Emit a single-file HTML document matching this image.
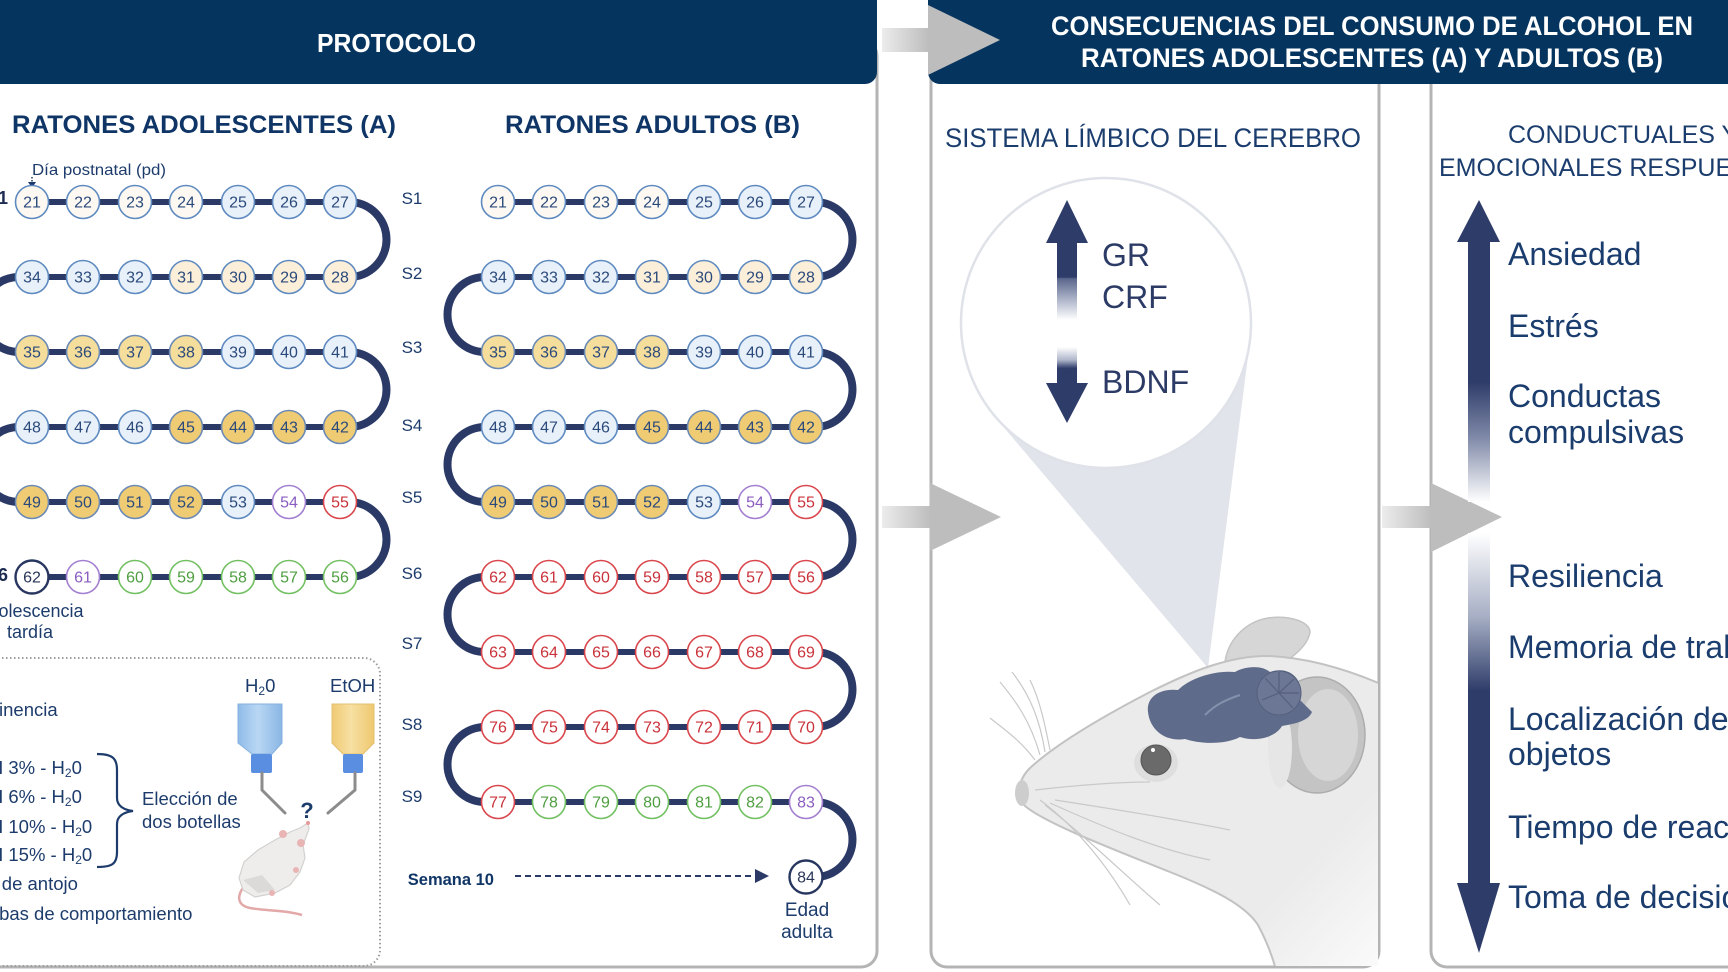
<!DOCTYPE html>
<html>
<head>
<meta charset="utf-8">
<style>
html,body{margin:0;padding:0;background:#fff;}
body{width:1728px;height:972px;overflow:hidden;}
svg{display:block;}
svg text{font-family:"Liberation Sans",sans-serif;}
.nm circle{stroke-width:1.6;}
.nm text{font-size:16px;text-anchor:middle;fill:#2b4a7c;}
g.w circle{fill:#fdf9f2;stroke:#5e8ac0;}
g.b circle{fill:#e8f0f9;stroke:#5e8ac0;}
g.c circle{fill:#fcefd9;stroke:#5e8ac0;}
g.y circle{fill:#f5dd9b;stroke:#6a8ab5;}
g.o circle{fill:#efcb74;stroke:#6a8ab5;}
g.p circle{fill:#fff;stroke:#a27fd0;} g.p text{fill:#8a5cc0;}
g.r circle{fill:#fff;stroke:#d9464c;} g.r text{fill:#c9323a;}
g.g circle{fill:#fff;stroke:#72c062;} g.g text{fill:#4e9e40;}
g.n circle{fill:#fff;stroke:#27365f;stroke-width:2.4;} g.n text{fill:#2a3558;}
.lbl{font-size:17px;fill:#1d3c6c;text-anchor:middle;}
.bx{font-size:18.5px;fill:#1d3c6c;}
.rt{font-size:32px;fill:#1b3d6e;}
</style>
</head>
<body>
<svg width="1728" height="972" viewBox="0 0 1728 972" xmlns="http://www.w3.org/2000/svg">
<defs>
  <linearGradient id="barg" x1="0" y1="0" x2="1" y2="0">
    <stop offset="0" stop-color="#ececec"/>
    <stop offset="1" stop-color="#bdbdbd"/>
  </linearGradient>
  <linearGradient id="mu" gradientUnits="userSpaceOnUse" x1="0" y1="242" x2="0" y2="320">
    <stop offset="0" stop-color="#2e3c69"/>
    <stop offset="0.45" stop-color="#2e3c69"/>
    <stop offset="0.47" stop-color="#5a668c"/>
    <stop offset="0.72" stop-color="#a8b0c6"/>
    <stop offset="1" stop-color="#ffffff"/>
  </linearGradient>
  <linearGradient id="md" gradientUnits="userSpaceOnUse" x1="0" y1="347" x2="0" y2="384">
    <stop offset="0" stop-color="#ffffff"/>
    <stop offset="0.35" stop-color="#b0b7cb"/>
    <stop offset="0.5" stop-color="#58648a"/>
    <stop offset="0.58" stop-color="#2e3c69"/>
    <stop offset="1" stop-color="#2e3c69"/>
  </linearGradient>
  <linearGradient id="ru" gradientUnits="userSpaceOnUse" x1="0" y1="241" x2="0" y2="502">
    <stop offset="0" stop-color="#2e3c69"/>
    <stop offset="0.54" stop-color="#2e3c69"/>
    <stop offset="0.75" stop-color="#7e88a7"/>
    <stop offset="1" stop-color="#ffffff"/>
  </linearGradient>
  <linearGradient id="rd" gradientUnits="userSpaceOnUse" x1="0" y1="533" x2="0" y2="884">
    <stop offset="0" stop-color="#ffffff"/>
    <stop offset="0.24" stop-color="#a6aec4"/>
    <stop offset="0.45" stop-color="#2e3c69"/>
    <stop offset="1" stop-color="#2e3c69"/>
  </linearGradient>
  <linearGradient id="headg" gradientUnits="userSpaceOnUse" x1="1150" y1="740" x2="1390" y2="966">
    <stop offset="0" stop-color="#ebebeb"/>
    <stop offset="0.6" stop-color="#ebebeb"/>
    <stop offset="1" stop-color="#fbfbfb"/>
  </linearGradient>
  <linearGradient id="bblue" x1="0" y1="0" x2="1" y2="0">
    <stop offset="0" stop-color="#8fbbe8"/>
    <stop offset="0.45" stop-color="#b9d7f4"/>
    <stop offset="1" stop-color="#8ab6e4"/>
  </linearGradient>
  <linearGradient id="byel" x1="0" y1="0" x2="1" y2="0">
    <stop offset="0" stop-color="#efca74"/>
    <stop offset="0.45" stop-color="#f7e0a2"/>
    <stop offset="1" stop-color="#eec870"/>
  </linearGradient>
  <clipPath id="midclip"><rect x="933" y="90" width="445" height="876"/></clipPath>
</defs>

<rect x="0" y="0" width="1728" height="972" fill="#fff"/>

<!-- panels -->
<rect x="-20" y="40" width="897" height="927" rx="16" fill="#fff" stroke="#b4b4b4" stroke-width="3"/>
<rect x="931" y="40" width="448" height="927" rx="16" fill="#fff" stroke="#b4b4b4" stroke-width="3"/>
<rect x="1431" y="40" width="400" height="927" rx="16" fill="#fff" stroke="#b4b4b4" stroke-width="3"/>

<!-- headers -->
<rect x="-20" y="-20" width="897" height="104" rx="12" fill="#05345f"/>
<rect x="928" y="-20" width="830" height="104" rx="12" fill="#05345f"/>
<text x="317" y="52" font-size="26" font-weight="bold" fill="#fff" textLength="159" lengthAdjust="spacingAndGlyphs">PROTOCOLO</text>
<text x="1051" y="35" font-size="27" font-weight="bold" fill="#fff" textLength="642" lengthAdjust="spacingAndGlyphs">CONSECUENCIAS DEL CONSUMO DE ALCOHOL EN</text>
<text x="1081" y="67" font-size="27" font-weight="bold" fill="#fff" textLength="582" lengthAdjust="spacingAndGlyphs">RATONES ADOLESCENTES (A) Y ADULTOS (B)</text>

<!-- connectors -->
<rect x="882" y="28" width="47" height="24" fill="url(#barg)"/>
<polygon points="928,5 928,75 1000,40" fill="#bdbdbd"/>
<rect x="882" y="506" width="49" height="22" fill="url(#barg)"/>
<polygon points="930,483 930,551 1001,517" fill="#bdbdbd"/>
<rect x="1382" y="506" width="50" height="22" fill="url(#barg)"/>
<polygon points="1431,483 1431,552 1502,517" fill="#bdbdbd"/>

<!-- Protocol titles -->
<text x="12" y="133" font-size="25" font-weight="bold" fill="#0f3566" textLength="384" lengthAdjust="spacingAndGlyphs">RATONES ADOLESCENTES (A)</text>
<text x="505" y="133" font-size="25" font-weight="bold" fill="#0f3566" textLength="295" lengthAdjust="spacingAndGlyphs">RATONES ADULTOS (B)</text>
<text x="32" y="175" font-size="16" fill="#1d3c6c" textLength="134" lengthAdjust="spacingAndGlyphs">Día postnatal (pd)</text>
<line x1="32" y1="177" x2="32" y2="183" stroke="#1d3c6c" stroke-width="1.5" stroke-dasharray="1.5 1.5"/>
<polygon points="28,182 36,182 32,188" fill="#1d3c6c"/>

<text x="8" y="204" font-size="18" font-weight="bold" fill="#1d2b50" text-anchor="end">S1</text>
<text x="8" y="581" font-size="18" font-weight="bold" fill="#1d2b50" text-anchor="end">S6</text>

<!-- week labels -->
<text class="lbl" x="412" y="204">S1</text>
<text class="lbl" x="412" y="279">S2</text>
<text class="lbl" x="412" y="353">S3</text>
<text class="lbl" x="412" y="431">S4</text>
<text class="lbl" x="412" y="503">S5</text>
<text class="lbl" x="412" y="579">S6</text>
<text class="lbl" x="412" y="649">S7</text>
<text class="lbl" x="412" y="730">S8</text>
<text class="lbl" x="412" y="802">S9</text>

<!-- Chain A lines -->
<g stroke="#2b3966" fill="none">
  <g stroke-width="6">
    <path d="M32,202H340M32,277H340M32,352H340M32,427H340M32,502H340M32,577H340"/>
  </g>
  <g stroke-width="8">
    <path d="M340,202H349A37.5,37.5 0 0 1 349,277H340"/>
    <path d="M340,352H349A37.5,37.5 0 0 1 349,427H340"/>
    <path d="M340,502H349A37.5,37.5 0 0 1 349,577H340"/>
    <path d="M32,277H19A37.5,37.5 0 0 0 19,352H32"/>
    <path d="M32,427H19A37.5,37.5 0 0 0 19,502H32"/>
  </g>
</g>
<!-- Chain B lines -->
<g stroke="#2b3966" fill="none">
  <g stroke-width="6">
    <path d="M498,202H806M498,277H806M498,352H806M498,427H806M498,502H806M498,577H806M498,652H806M498,727H806M498,802H806"/>
  </g>
  <g stroke-width="8">
    <path d="M806,202H815A37.5,37.5 0 0 1 815,277H806"/>
    <path d="M806,352H815A37.5,37.5 0 0 1 815,427H806"/>
    <path d="M806,502H815A37.5,37.5 0 0 1 815,577H806"/>
    <path d="M806,652H815A37.5,37.5 0 0 1 815,727H806"/>
    <path d="M806,802H815A37.5,37.5 0 0 1 815,877H806"/>
    <path d="M498,277H485A37.5,37.5 0 0 0 485,352H498"/>
    <path d="M498,427H485A37.5,37.5 0 0 0 485,502H498"/>
    <path d="M498,577H485A37.5,37.5 0 0 0 485,652H498"/>
    <path d="M498,727H485A37.5,37.5 0 0 0 485,802H498"/>
  </g>
</g>

<!-- Chain A circles -->
<g class="nm">
<g class="w"><circle cx="32" cy="202" r="16.5"/><text x="32" y="207.5">21</text><circle cx="83" cy="202" r="16.5"/><text x="83" y="207.5">22</text><circle cx="135" cy="202" r="16.5"/><text x="135" y="207.5">23</text><circle cx="186" cy="202" r="16.5"/><text x="186" y="207.5">24</text></g>
<g class="b"><circle cx="238" cy="202" r="16.5"/><text x="238" y="207.5">25</text><circle cx="289" cy="202" r="16.5"/><text x="289" y="207.5">26</text><circle cx="340" cy="202" r="16.5"/><text x="340" y="207.5">27</text></g>
<g class="b"><circle cx="32" cy="277" r="16.5"/><text x="32" y="282.5">34</text><circle cx="83" cy="277" r="16.5"/><text x="83" y="282.5">33</text><circle cx="135" cy="277" r="16.5"/><text x="135" y="282.5">32</text></g>
<g class="c"><circle cx="186" cy="277" r="16.5"/><text x="186" y="282.5">31</text><circle cx="238" cy="277" r="16.5"/><text x="238" y="282.5">30</text><circle cx="289" cy="277" r="16.5"/><text x="289" y="282.5">29</text><circle cx="340" cy="277" r="16.5"/><text x="340" y="282.5">28</text></g>
<g class="y"><circle cx="32" cy="352" r="16.5"/><text x="32" y="357.5">35</text><circle cx="83" cy="352" r="16.5"/><text x="83" y="357.5">36</text><circle cx="135" cy="352" r="16.5"/><text x="135" y="357.5">37</text><circle cx="186" cy="352" r="16.5"/><text x="186" y="357.5">38</text></g>
<g class="b"><circle cx="238" cy="352" r="16.5"/><text x="238" y="357.5">39</text><circle cx="289" cy="352" r="16.5"/><text x="289" y="357.5">40</text><circle cx="340" cy="352" r="16.5"/><text x="340" y="357.5">41</text></g>
<g class="b"><circle cx="32" cy="427" r="16.5"/><text x="32" y="432.5">48</text><circle cx="83" cy="427" r="16.5"/><text x="83" y="432.5">47</text><circle cx="135" cy="427" r="16.5"/><text x="135" y="432.5">46</text></g>
<g class="o"><circle cx="186" cy="427" r="16.5"/><text x="186" y="432.5">45</text><circle cx="238" cy="427" r="16.5"/><text x="238" y="432.5">44</text><circle cx="289" cy="427" r="16.5"/><text x="289" y="432.5">43</text><circle cx="340" cy="427" r="16.5"/><text x="340" y="432.5">42</text></g>
<g class="o"><circle cx="32" cy="502" r="16.5"/><text x="32" y="507.5">49</text><circle cx="83" cy="502" r="16.5"/><text x="83" y="507.5">50</text><circle cx="135" cy="502" r="16.5"/><text x="135" y="507.5">51</text><circle cx="186" cy="502" r="16.5"/><text x="186" y="507.5">52</text></g>
<g class="b"><circle cx="238" cy="502" r="16.5"/><text x="238" y="507.5">53</text></g>
<g class="p"><circle cx="289" cy="502" r="16.5"/><text x="289" y="507.5">54</text></g>
<g class="r"><circle cx="340" cy="502" r="16.5"/><text x="340" y="507.5">55</text></g>
<g class="n"><circle cx="32" cy="577" r="16.5"/><text x="32" y="582.5">62</text></g>
<g class="p"><circle cx="83" cy="577" r="16.5"/><text x="83" y="582.5">61</text></g>
<g class="g"><circle cx="135" cy="577" r="16.5"/><text x="135" y="582.5">60</text><circle cx="186" cy="577" r="16.5"/><text x="186" y="582.5">59</text><circle cx="238" cy="577" r="16.5"/><text x="238" y="582.5">58</text><circle cx="289" cy="577" r="16.5"/><text x="289" y="582.5">57</text><circle cx="340" cy="577" r="16.5"/><text x="340" y="582.5">56</text></g>
</g>

<!-- Chain B circles -->
<g class="nm">
<g class="w"><circle cx="498" cy="202" r="16.5"/><text x="498" y="207.5">21</text><circle cx="549" cy="202" r="16.5"/><text x="549" y="207.5">22</text><circle cx="601" cy="202" r="16.5"/><text x="601" y="207.5">23</text><circle cx="652" cy="202" r="16.5"/><text x="652" y="207.5">24</text></g>
<g class="b"><circle cx="704" cy="202" r="16.5"/><text x="704" y="207.5">25</text><circle cx="755" cy="202" r="16.5"/><text x="755" y="207.5">26</text><circle cx="806" cy="202" r="16.5"/><text x="806" y="207.5">27</text></g>
<g class="b"><circle cx="498" cy="277" r="16.5"/><text x="498" y="282.5">34</text><circle cx="549" cy="277" r="16.5"/><text x="549" y="282.5">33</text><circle cx="601" cy="277" r="16.5"/><text x="601" y="282.5">32</text></g>
<g class="c"><circle cx="652" cy="277" r="16.5"/><text x="652" y="282.5">31</text><circle cx="704" cy="277" r="16.5"/><text x="704" y="282.5">30</text><circle cx="755" cy="277" r="16.5"/><text x="755" y="282.5">29</text><circle cx="806" cy="277" r="16.5"/><text x="806" y="282.5">28</text></g>
<g class="y"><circle cx="498" cy="352" r="16.5"/><text x="498" y="357.5">35</text><circle cx="549" cy="352" r="16.5"/><text x="549" y="357.5">36</text><circle cx="601" cy="352" r="16.5"/><text x="601" y="357.5">37</text><circle cx="652" cy="352" r="16.5"/><text x="652" y="357.5">38</text></g>
<g class="b"><circle cx="704" cy="352" r="16.5"/><text x="704" y="357.5">39</text><circle cx="755" cy="352" r="16.5"/><text x="755" y="357.5">40</text><circle cx="806" cy="352" r="16.5"/><text x="806" y="357.5">41</text></g>
<g class="b"><circle cx="498" cy="427" r="16.5"/><text x="498" y="432.5">48</text><circle cx="549" cy="427" r="16.5"/><text x="549" y="432.5">47</text><circle cx="601" cy="427" r="16.5"/><text x="601" y="432.5">46</text></g>
<g class="o"><circle cx="652" cy="427" r="16.5"/><text x="652" y="432.5">45</text><circle cx="704" cy="427" r="16.5"/><text x="704" y="432.5">44</text><circle cx="755" cy="427" r="16.5"/><text x="755" y="432.5">43</text><circle cx="806" cy="427" r="16.5"/><text x="806" y="432.5">42</text></g>
<g class="o"><circle cx="498" cy="502" r="16.5"/><text x="498" y="507.5">49</text><circle cx="549" cy="502" r="16.5"/><text x="549" y="507.5">50</text><circle cx="601" cy="502" r="16.5"/><text x="601" y="507.5">51</text><circle cx="652" cy="502" r="16.5"/><text x="652" y="507.5">52</text></g>
<g class="b"><circle cx="704" cy="502" r="16.5"/><text x="704" y="507.5">53</text></g>
<g class="p"><circle cx="755" cy="502" r="16.5"/><text x="755" y="507.5">54</text></g>
<g class="r"><circle cx="806" cy="502" r="16.5"/><text x="806" y="507.5">55</text></g>
<g class="r">
<circle cx="498" cy="577" r="16.5"/><text x="498" y="582.5">62</text><circle cx="549" cy="577" r="16.5"/><text x="549" y="582.5">61</text><circle cx="601" cy="577" r="16.5"/><text x="601" y="582.5">60</text><circle cx="652" cy="577" r="16.5"/><text x="652" y="582.5">59</text><circle cx="704" cy="577" r="16.5"/><text x="704" y="582.5">58</text><circle cx="755" cy="577" r="16.5"/><text x="755" y="582.5">57</text><circle cx="806" cy="577" r="16.5"/><text x="806" y="582.5">56</text>
<circle cx="498" cy="652" r="16.5"/><text x="498" y="657.5">63</text><circle cx="549" cy="652" r="16.5"/><text x="549" y="657.5">64</text><circle cx="601" cy="652" r="16.5"/><text x="601" y="657.5">65</text><circle cx="652" cy="652" r="16.5"/><text x="652" y="657.5">66</text><circle cx="704" cy="652" r="16.5"/><text x="704" y="657.5">67</text><circle cx="755" cy="652" r="16.5"/><text x="755" y="657.5">68</text><circle cx="806" cy="652" r="16.5"/><text x="806" y="657.5">69</text>
<circle cx="498" cy="727" r="16.5"/><text x="498" y="732.5">76</text><circle cx="549" cy="727" r="16.5"/><text x="549" y="732.5">75</text><circle cx="601" cy="727" r="16.5"/><text x="601" y="732.5">74</text><circle cx="652" cy="727" r="16.5"/><text x="652" y="732.5">73</text><circle cx="704" cy="727" r="16.5"/><text x="704" y="732.5">72</text><circle cx="755" cy="727" r="16.5"/><text x="755" y="732.5">71</text><circle cx="806" cy="727" r="16.5"/><text x="806" y="732.5">70</text>
<circle cx="498" cy="802" r="16.5"/><text x="498" y="807.5">77</text>
</g>
<g class="g"><circle cx="549" cy="802" r="16.5"/><text x="549" y="807.5">78</text><circle cx="601" cy="802" r="16.5"/><text x="601" y="807.5">79</text><circle cx="652" cy="802" r="16.5"/><text x="652" y="807.5">80</text><circle cx="704" cy="802" r="16.5"/><text x="704" y="807.5">81</text><circle cx="755" cy="802" r="16.5"/><text x="755" y="807.5">82</text></g>
<g class="p"><circle cx="806" cy="802" r="16.5"/><text x="806" y="807.5">83</text></g>
<g class="n"><circle cx="806" cy="877" r="16.5"/><text x="806" y="882.5">84</text></g>
</g>

<!-- Semana 10 + arrow -->
<text x="494" y="885" font-size="16.5" font-weight="bold" fill="#0f3566" text-anchor="end">Semana 10</text>
<line x1="515" y1="876" x2="757" y2="876" stroke="#2b3966" stroke-width="2" stroke-dasharray="6 4"/>
<polygon points="755,869 755,883 769,876" fill="#2b3966"/>
<text x="807" y="916" font-size="19" fill="#1d3c6c" text-anchor="middle">Edad</text>
<text x="807" y="938" font-size="19" fill="#1d3c6c" text-anchor="middle">adulta</text>

<!-- Adolescencia tardía -->
<text x="30" y="617" font-size="18" fill="#1d3c6c" text-anchor="middle">Adolescencia</text>
<text x="30" y="638" font-size="18" fill="#1d3c6c" text-anchor="middle">tardía</text>

<!-- dotted box -->
<path d="M-10,658H364A16,16 0 0 1 380,674V950A16,16 0 0 1 364,966H-10" fill="none" stroke="#9c9c9c" stroke-width="2" stroke-dasharray="1.5 2.5"/>

<text class="bx" x="-38" y="716">Abstinencia</text>
<text class="bx" x="-42" y="774">EtOH 3% - H<tspan font-size="12" dy="3">2</tspan><tspan dy="-3">0</tspan></text>
<text class="bx" x="-42" y="803">EtOH 6% - H<tspan font-size="12" dy="3">2</tspan><tspan dy="-3">0</tspan></text>
<text class="bx" x="-42" y="833">EtOH 10% - H<tspan font-size="12" dy="3">2</tspan><tspan dy="-3">0</tspan></text>
<text class="bx" x="-42" y="861">EtOH 15% - H<tspan font-size="12" dy="3">2</tspan><tspan dy="-3">0</tspan></text>
<text class="bx" x="-63" y="890">Prueba de antojo</text>
<text class="bx" x="-40" y="920">Pruebas de comportamiento</text>
<path d="M97,754C112,754 117,758 117,770L117,798C117,806 124,810 133,811C124,812 117,816 117,824L117,852C117,864 112,867 97,867" fill="none" stroke="#1d3c6c" stroke-width="2.2"/>
<text class="bx" x="142" y="805">Elección de</text>
<text class="bx" x="142" y="828">dos botellas</text>

<text class="bx" x="245" y="692">H<tspan font-size="12" dy="3">2</tspan><tspan dy="-3">0</tspan></text>
<text class="bx" x="330" y="692">EtOH</text>

<!-- bottles -->
<path d="M238,704H282V743L272,754H252L238,743Z" fill="url(#bblue)" stroke="#86b1df" stroke-width="1"/>
<rect x="251" y="754" width="21" height="19" rx="2" fill="#5a8ee0"/>
<path d="M262,773V790L285,813" fill="none" stroke="#8c8c8c" stroke-width="3" stroke-linecap="round"/>
<path d="M332,704H374V743L363,754H343L332,743Z" fill="url(#byel)" stroke="#e2c070" stroke-width="1"/>
<rect x="343" y="754" width="20" height="19" rx="2" fill="#5a8ee0"/>
<path d="M355,773V790L328,813" fill="none" stroke="#8c8c8c" stroke-width="3" stroke-linecap="round"/>
<text x="307" y="818" font-size="22" font-weight="bold" fill="#1d3c6c" text-anchor="middle">?</text>

<!-- rat -->
<path d="M245,885C237,895 236,905 250,908C266,911 285,910 302,915" fill="none" stroke="#e3a8a8" stroke-width="2.5"/>
<path d="M308,823L300,828L290,832L275,840L258,850L244,862L239,878L243,890L255,897L275,893L290,885L300,872L305,858L303,845L309,829Z" fill="#efedeb" stroke="#d3d1cf" stroke-width="1.2"/>
<path d="M243,880L258,893L275,890L262,875Z" fill="#dcdad8"/>
<circle cx="283" cy="834" r="4" fill="#e8b4b4"/>
<circle cx="301" cy="843" r="4" fill="#e8b4b4"/>
<circle cx="308" cy="823" r="2" fill="#e79a9a"/>
<circle cx="296" cy="870" r="3" fill="#e8b4b4"/>
<circle cx="272" cy="893" r="3" fill="#e8b4b4"/>

<!-- Middle panel -->
<text x="945" y="147" font-size="27" fill="#1b3d6e" textLength="416" lengthAdjust="spacingAndGlyphs">SISTEMA LÍMBICO DEL CEREBRO</text>
<polygon points="995,417 1106,323 1250,341 1208,668" fill="#e1e4ea"/>
<circle cx="1106" cy="323" r="145" fill="#fff" stroke="#dfe2e8" stroke-width="2.5"/>

<polygon points="1046,243 1067,200 1088,243" fill="#2e3c69"/>
<rect x="1057" y="242" width="20" height="78" fill="url(#mu)"/>
<rect x="1057" y="347" width="20" height="37" fill="url(#md)"/>
<polygon points="1046,383 1088,383 1067,423" fill="#2e3c69"/>
<text x="1102" y="266" font-size="32" fill="#2c3a66">GR</text>
<text x="1102" y="308" font-size="32" fill="#2c3a66">CRF</text>
<text x="1102" y="393" font-size="32" fill="#2c3a66">BDNF</text>

<!-- mouse head -->
<g clip-path="url(#midclip)">
  <path d="M1225,662C1228,640 1245,622 1268,618C1290,615 1310,622 1310,632C1308,645 1295,655 1285,662Z" fill="#d6d6d6" stroke="#c4c4c4" stroke-width="1.5"/>
  <path d="M1390,688C1350,670 1310,658 1270,656C1230,655 1190,672 1150,692C1100,718 1055,745 1030,768C1018,780 1016,795 1025,806C1045,823 1110,848 1170,872C1215,890 1245,905 1258,925C1266,940 1272,955 1276,970L1390,970Z" fill="url(#headg)" stroke="#c2c2c2" stroke-width="2"/>
  <ellipse cx="1022" cy="793" rx="7" ry="13" fill="#cdcdcd"/>
  <ellipse cx="1317" cy="735" rx="48" ry="58" fill="#c4c4c4" stroke="#adadad" stroke-width="1.5"/>
  <ellipse cx="1328" cy="735" rx="30" ry="46" fill="#d6d6d6"/>
  <ellipse cx="1280" cy="748" rx="12" ry="40" fill="#e6e6e6"/>
  <ellipse cx="1156" cy="763" rx="22" ry="19" fill="#dedede"/>
  <circle cx="1156" cy="760" r="15" fill="#6a6a6a" stroke="#555" stroke-width="1"/>
  <circle cx="1153" cy="750" r="2" fill="#fff"/>
  <path d="M1148,712C1146,697 1160,688 1178,690C1190,678 1215,670 1235,672C1245,666 1262,665 1270,672C1290,665 1305,680 1300,700L1312,712C1308,722 1292,724 1282,726C1275,738 1255,742 1240,737C1225,745 1200,744 1185,739C1165,742 1150,730 1148,712Z" fill="#5f6b8a"/>
  <circle cx="1279" cy="693" r="22" fill="#6c7795" stroke="#55607d" stroke-width="1"/>
  <path d="M1279,693L1265,678M1279,693L1279,672M1279,693L1294,679M1279,693L1299,693M1279,693L1293,708M1279,693L1262,700" stroke="#55607d" stroke-width="1.2"/>
  <path d="M1205,715C1215,705 1225,700 1240,695" fill="none" stroke="#8590ac" stroke-width="2"/>
  <g fill="none" stroke="#c9c9c9" stroke-width="1.2">
    <path d="M1040,755C1030,720 1015,700 1000,682"/>
    <path d="M1045,752C1040,720 1030,695 1012,672"/>
    <path d="M1050,750C1045,725 1040,700 1030,680"/>
    <path d="M1035,760C1020,740 1005,730 990,718"/>
    <path d="M1040,800C1080,830 1110,870 1130,905"/>
    <path d="M1045,805C1090,840 1130,880 1160,905"/>
    <path d="M1050,803C1110,830 1160,850 1210,860"/>
    <path d="M1055,800C1120,810 1180,820 1230,830"/>
    <path d="M1035,790C1080,785 1120,782 1150,782"/>
  </g>
</g>

<!-- Right panel -->
<text x="1508" y="143" font-size="25" fill="#1b3d6e">CONDUCTUALES Y</text>
<text x="1439" y="176" font-size="25" fill="#1b3d6e">EMOCIONALES RESPUESTAS</text>
<polygon points="1457,242 1479,200 1500,242" fill="#2e3c69"/>
<rect x="1468" y="241" width="22" height="261" fill="url(#ru)"/>
<rect x="1468" y="533" width="22" height="351" fill="url(#rd)"/>
<polygon points="1457,883 1500,883 1479,953" fill="#2e3c69"/>
<text class="rt" x="1508" y="265">Ansiedad</text>
<text class="rt" x="1508" y="337">Estrés</text>
<text class="rt" x="1508" y="407">Conductas</text>
<text class="rt" x="1508" y="443">compulsivas</text>
<text class="rt" x="1508" y="587">Resiliencia</text>
<text class="rt" x="1508" y="658">Memoria de trabajo</text>
<text class="rt" x="1508" y="730">Localización de</text>
<text class="rt" x="1508" y="765">objetos</text>
<text class="rt" x="1508" y="838">Tiempo de reacción</text>
<text class="rt" x="1508" y="908">Toma de decisiones</text>
</svg>
</body>
</html>
